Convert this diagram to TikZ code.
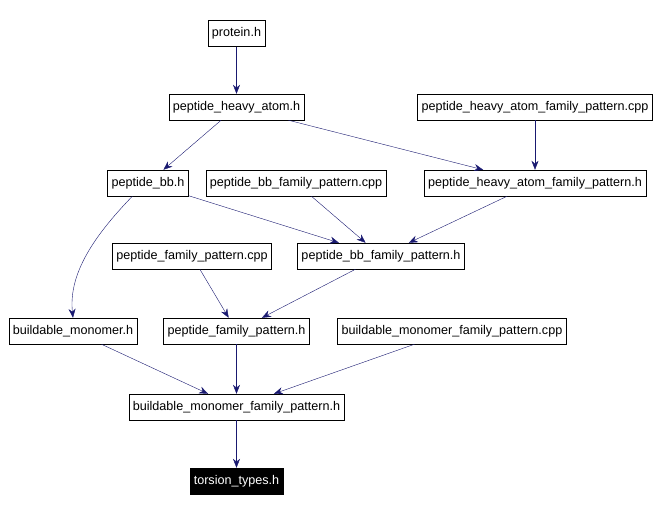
\documentclass[tikz,border=0pt]{standalone}
\usepackage{fontspec}
\setmainfont{Liberation Sans}
\usetikzlibrary{arrows.meta}
\definecolor{edgeblue}{HTML}{191970}
\tikzset{
  file/.style={draw=black,fill=white,inner xsep=4pt,inner ysep=0pt,minimum height=26pt,font=\fontsize{12.6}{14}\selectfont},
  focus/.style={file,fill=black,text=white},
  dep/.style={draw=edgeblue,-{Stealth[length=9pt,width=7pt]}}
}
\begin{document}
\begin{tikzpicture}[x=1pt,y=-1pt]
    \useasboundingbox (0,0) rectangle (659,510);
    \node[file] (protein) at (236.5,33.5) {protein.h};
    \node[file] (pha) at (236.5,107) {peptide\_heavy\_atom.h};
    \node[file] (phafpcpp) at (535,107) {peptide\_heavy\_atom\_family\_pattern.cpp};
    \node[file] (pbb) at (148,183) {peptide\_bb.h};
    \node[file] (pbbfpcpp) at (296,183) {peptide\_bb\_family\_pattern.cpp};
    \node[file] (phafp) at (535,183) {peptide\_heavy\_atom\_family\_pattern.h};
    \node[file] (pfpcpp) at (192,256) {peptide\_family\_pattern.cpp};
    \node[file] (pbbfp) at (381,256) {peptide\_bb\_family\_pattern.h};
    \node[file] (bm) at (73,331) {buildable\_monomer.h};
    \node[file] (pfp) at (236.5,331) {peptide\_family\_pattern.h};
    \node[file] (bmfpcpp) at (452,331) {buildable\_monomer\_family\_pattern.cpp};
    \node[file] (bmfp) at (236.5,407) {buildable\_monomer\_family\_pattern.h};
    \node[focus] (torsion) at (236.5,481) {torsion\_types.h};

    \draw[dep] (protein) -- (pha);
    \draw[dep] (pha) -- (pbb);
    \draw[dep] (pha) -- (phafp);
    \draw[dep] (phafpcpp) -- (phafp);
    \draw[dep] (pbb.south west) ++(25,0) .. controls (100,230) and (68,270) .. (bm.north);
    \draw[dep] (pbb) -- (pbbfp);
    \draw[dep] (pbbfpcpp) -- (pbbfp);
    \draw[dep] (phafp) -- (pbbfp);
    \draw[dep] (pbbfp) -- (pfp);
    \draw[dep] (pfpcpp) -- (pfp);
    \draw[dep] (bm) -- (bmfp);
    \draw[dep] (pfp) -- (bmfp);
    \draw[dep] (bmfpcpp) -- (bmfp);
    \draw[dep] (bmfp) -- (torsion);
\end{tikzpicture}
\end{document}
